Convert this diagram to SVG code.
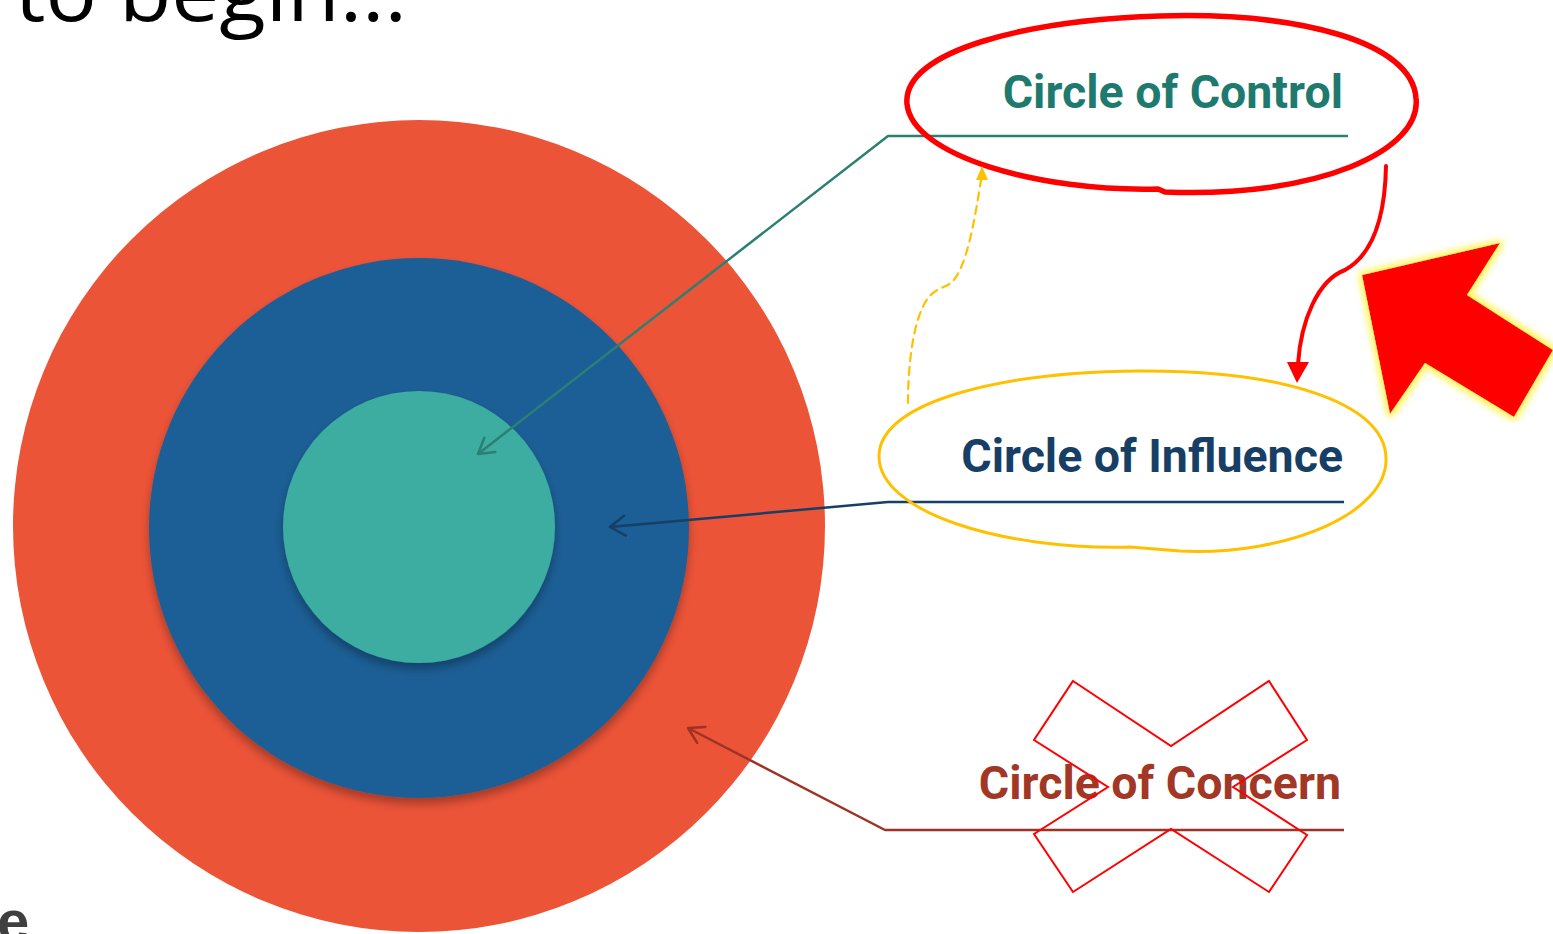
<svg xmlns="http://www.w3.org/2000/svg" width="1553" height="934" viewBox="0 0 1553 934">
  <style>
    .label { font-family: Roboto, "Liberation Sans", sans-serif; font-weight: 700; font-size: 46.5px; text-anchor: end; }
    .lead { fill: none; stroke-width: 2.5; stroke-linejoin: round; }
    .mark { fill: none; stroke-width: 2.5; stroke-linecap: round; stroke-linejoin: round; }
    .ink { fill: none; stroke-linecap: round; stroke-linejoin: round; }
  </style>
  <defs>
    <filter id="soft" x="-10%" y="-10%" width="120%" height="125%">
      <feDropShadow dx="0" dy="6" stdDeviation="5" flood-color="#000" flood-opacity="0.3"/>
    </filter>
    <filter id="glow" x="-20%" y="-20%" width="140%" height="140%">
      <feMorphology in="SourceAlpha" operator="dilate" radius="3" result="d"/>
      <feGaussianBlur in="d" stdDeviation="3" result="b"/>
      <feFlood flood-color="#fff34a" flood-opacity="0.9"/>
      <feComposite in2="b" operator="in" result="g"/>
      <feMerge><feMergeNode in="g"/><feMergeNode in="SourceGraphic"/></feMerge>
    </filter>
    <marker id="mk-control" markerUnits="userSpaceOnUse" viewBox="-18 -12 22 24" refX="0" refY="0" markerWidth="22" markerHeight="24" orient="auto">
      <path class="mark" d="M-15,-9 L0,0 L-15,9" stroke="#2b8073"/>
    </marker>
    <marker id="mk-influence" markerUnits="userSpaceOnUse" viewBox="-18 -12 22 24" refX="0" refY="0" markerWidth="22" markerHeight="24" orient="auto">
      <path class="mark" d="M-15,-10 L0,0 L-15,10" stroke="#173f66"/>
    </marker>
    <marker id="mk-concern" markerUnits="userSpaceOnUse" viewBox="-18 -12 22 24" refX="0" refY="0" markerWidth="22" markerHeight="24" orient="auto">
      <path class="mark" d="M-15,-9 L0,0 L-15,9" stroke="#9e3325"/>
    </marker>
  </defs>

  <rect width="1553" height="934" fill="#ffffff"/>

  <!-- heading and page text cut by the frame -->
  <text x="15" y="21" font-family="'Open Sans', 'Liberation Sans', sans-serif" font-weight="400" font-size="80" textLength="392" lengthAdjust="spacingAndGlyphs" fill="#000">to begin...</text>
  <text x="-3" y="941" font-family="'Liberation Sans', Arial, sans-serif" font-weight="700" font-size="58" fill="#3f3f3f">e</text>

  <!-- concentric circles -->
  <g id="circle-concern">
    <circle cx="419" cy="526" r="406" fill="#ec5438"/>
  </g>
  <g id="circle-influence">
    <circle cx="419" cy="528" r="270" fill="#1f5f96" filter="url(#soft)"/>
  </g>
  <g id="circle-control">
    <circle cx="419" cy="527" r="136" fill="#3cada2" filter="url(#soft)"/>
  </g>

  <!-- leader lines from labels to the rings -->
  <g id="connectors">
    <path class="lead" d="M1348,136 L888,136 L478,454" stroke="#2b8073" marker-end="url(#mk-control)"/>
    <path class="lead" d="M1344,502 L888,502 L610,527" stroke="#173f66" marker-end="url(#mk-influence)"/>
    <path class="lead" d="M1344,830 L885,830 L688,728" stroke="#9e3325" marker-end="url(#mk-concern)"/>
  </g>

  <!-- labels -->
  <g id="label-control">
    <text class="label" x="1343" y="108" fill="#1e7a6e">Circle of Control</text>
  </g>
  <g id="label-influence">
    <text class="label" x="1343" y="472" fill="#173f66">Circle of Influence</text>
  </g>
  <g id="label-concern">
    <text class="label" x="1341" y="799" fill="#a33726">Circle of Concern</text>
  </g>

  <!-- hand-drawn annotations -->
  <g id="mark-control">
    <path class="ink" stroke="#ff0000" stroke-width="5.5" d="M907,104 C902,50 1030,20 1160,16 C1300,12 1412,42 1416,98 C1422,150 1320,198 1165,192 L1158,189 C1040,192 912,156 907,104"/>
  </g>
  <g id="mark-influence">
    <path class="ink" stroke="#ffc000" stroke-width="3" d="M879,457 C878,402 1000,372 1140,371 C1280,370 1385,402 1386,458 C1388,512 1290,556 1180,551 L1130,547 C1000,550 880,512 879,457"/>
  </g>
  <g id="mark-dashed">
    <path class="ink" stroke="#ffc000" stroke-width="2.2" stroke-dasharray="8 6" d="M908,403 C908,370 912,320 928,298 C936,288 945,288 952,282 C966,268 974,225 981,180"/>
    <polygon points="976,180 988,180 982,166" fill="#ffc000"/>
  </g>
  <g id="mark-down">
    <path class="ink" stroke="#ff0000" stroke-width="4" d="M1386,166 C1385,220 1372,255 1345,270 C1318,280 1301,320 1298,364"/>
    <polygon points="1287,362 1309,362 1297,383" fill="#ff0000"/>
  </g>
  <g id="mark-cross">
    <polygon fill="none" stroke="#ff0000" stroke-width="2" stroke-linejoin="miter" points="1073,681 1171,746 1269,681 1307,740 1233,787 1307,835 1269,892 1171,829 1073,892 1034,834 1108,787 1034,740"/>
  </g>
  <g id="mark-pointer">
    <polygon fill="#ff0000" filter="url(#glow)" points="1362,275 1500,243 1467,295 1553,350 1514,417 1425,363 1390,414"/>
  </g>
</svg>
